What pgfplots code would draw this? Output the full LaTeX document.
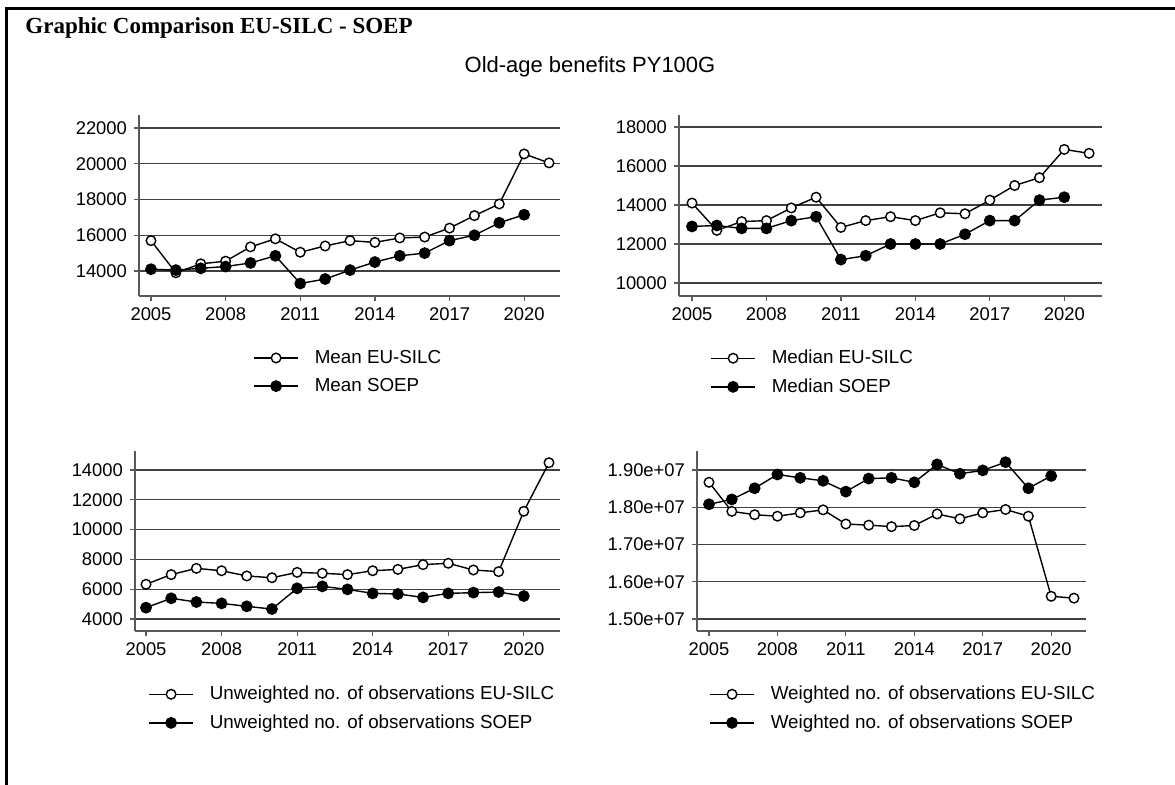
\documentclass[border=0pt]{standalone}
\usepackage{pgfplots}
\pgfplotsset{compat=1.18}
\usepackage{fontspec}
\setmainfont{Liberation Sans}
\newfontfamily\timesfont{Liberation Serif}

% 1 px of the reference = 0.5pt
\pgfplotsset{
  panel/.style={
    scale only axis, anchor=north west, clip=false,
    axis x line*=bottom, axis y line*=left,
    axis line style={draw=black!65, line width=0.75pt},
    ymajorgrids, grid style={draw=black!75, line width=0.6pt},
    tick align=outside, major tick length=2.5pt,
    tick style={draw=black!65, line width=0.6pt},
    xtick={2005,2008,...,2020},
    scaled y ticks=false,
    tick label style={font=\fontsize{9.2}{11}\selectfont},
    /pgf/number format/1000 sep={},
    /pgf/number format/assume math mode=true,
    legend cell align=left,
    legend style={draw=none, fill=none, anchor=north west, inner sep=0pt,
      row sep=6pt, column sep=8pt,
      font=\fontsize{9.4}{11}\selectfont,
      nodes={inner sep=0pt}},
    legend image code/.code={
      \draw[mark repeat=2,mark phase=2] plot coordinates {(0pt,0pt) (11pt,0pt) (22pt,0pt)};},
  },
  eu/.style={black, line width=0.7pt, mark=*, mark size=2.4pt,
    mark options={fill=white, line width=0.7pt}},
  soep/.style={black, line width=0.7pt, mark=*, mark size=2.6pt},
}

\begin{document}
\begin{tikzpicture}
\useasboundingbox (0,0) rectangle (587.5pt,-392pt);
\draw[line width=1.5pt] (3pt,-400pt) -- (3pt,-4pt) -- (600pt,-4pt);

\node[anchor=base west, inner sep=0pt,
  font=\timesfont\bfseries\fontsize{11.5}{14}\selectfont] at (12.5pt,-16.5pt) {Graphic Comparison EU-SILC - SOEP};
\node[font=\fontsize{11}{13}\selectfont] at (295pt,-33.5pt) {Old-age benefits PY100G};

% Mean
\begin{axis}[panel, at={(69.5pt,-57.5pt)}, width=210.5pt, height=90.5pt,
  xmin=2004.518, xmax=2021.44, ymin=12600, ymax=22730,
  ytick={14000,16000,...,22000},
  legend style={at={(0.2708,-0.2956)}}]
\addplot[eu] coordinates {
 (2005,15700) (2006,13900) (2007,14400) (2008,14550) (2009,15350) (2010,15800)
 (2011,15050) (2012,15400) (2013,15700) (2014,15600) (2015,15850) (2016,15900)
 (2017,16400) (2018,17100) (2019,17750) (2020,20550) (2021,20050)};
\addplot[soep] coordinates {
 (2005,14100) (2006,14050) (2007,14150) (2008,14250) (2009,14450) (2010,14850)
 (2011,13300) (2012,13550) (2013,14050) (2014,14500) (2015,14850) (2016,15000)
 (2017,15700) (2018,16000) (2019,16700) (2020,17150)};
\legend{Mean EU-SILC, Mean SOEP}
\end{axis}

% Median
\begin{axis}[panel, at={(339.5pt,-57.5pt)}, width=211.5pt, height=90.5pt,
  xmin=2004.476, xmax=2021.52, ymin=9333, ymax=18615,
  ytick={10000,12000,...,18000},
  legend style={at={(0.0733,-0.2956)}}]
\addplot[eu] coordinates {
 (2005,14100) (2006,12700) (2007,13150) (2008,13200) (2009,13850) (2010,14400)
 (2011,12850) (2012,13200) (2013,13400) (2014,13200) (2015,13600) (2016,13550)
 (2017,14250) (2018,15000) (2019,15400) (2020,16850) (2021,16650)};
\addplot[soep] coordinates {
 (2005,12900) (2006,12950) (2007,12800) (2008,12800) (2009,13200) (2010,13400)
 (2011,11200) (2012,11400) (2013,12000) (2014,12000) (2015,12000) (2016,12500)
 (2017,13200) (2018,13200) (2019,14250) (2020,14400)};
\legend{Median EU-SILC, Median SOEP}
\end{axis}

% Unweighted
\begin{axis}[panel, at={(67.5pt,-225.5pt)}, width=212.5pt, height=90pt,
  xmin=2004.563, xmax=2021.437, ymin=3195, ymax=15275,
  ytick={4000,6000,...,14000},
  legend style={at={(0.0306,-0.303)}}]
\addplot[eu] coordinates {
 (2005,6330) (2006,6980) (2007,7400) (2008,7240) (2009,6890) (2010,6770)
 (2011,7130) (2012,7070) (2013,6980) (2014,7240) (2015,7330) (2016,7650)
 (2017,7740) (2018,7290) (2019,7180) (2020,11230) (2021,14490)};
\addplot[soep] coordinates {
 (2005,4760) (2006,5390) (2007,5140) (2008,5050) (2009,4850) (2010,4670)
 (2011,6060) (2012,6190) (2013,5990) (2014,5720) (2015,5680) (2016,5450)
 (2017,5720) (2018,5770) (2019,5810) (2020,5540)};
\legend{Unweighted no. of observations EU-SILC, Unweighted no. of observations SOEP}
\end{axis}

% Weighted
\begin{axis}[panel, at={(348.5pt,-225.5pt)}, width=194.5pt, height=90pt,
  xmin=2004.474, xmax=2021.526, ymin=14678000, ymax=19510000,
  ytick={15000000,16000000,17000000,18000000,19000000},
  yticklabels={1.50e+07,1.60e+07,1.70e+07,1.80e+07,1.90e+07},
  legend style={at={(0.0308,-0.303)}}]
\addplot[eu] coordinates {
 (2005,18670000) (2006,17890000) (2007,17800000) (2008,17760000) (2009,17850000) (2010,17930000)
 (2011,17550000) (2012,17520000) (2013,17480000) (2014,17510000) (2015,17820000) (2016,17690000)
 (2017,17850000) (2018,17940000) (2019,17760000) (2020,15610000) (2021,15560000)};
\addplot[soep] coordinates {
 (2005,18080000) (2006,18210000) (2007,18510000) (2008,18880000) (2009,18790000) (2010,18710000)
 (2011,18420000) (2012,18770000) (2013,18790000) (2014,18670000) (2015,19150000) (2016,18900000)
 (2017,18990000) (2018,19210000) (2019,18510000) (2020,18840000)};
\legend{Weighted no. of observations EU-SILC, Weighted no. of observations SOEP}
\end{axis}
\end{tikzpicture}
\end{document}
